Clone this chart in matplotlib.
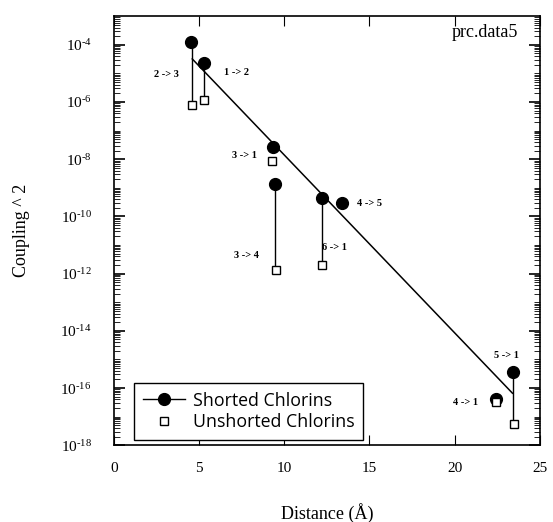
import numpy as np
import matplotlib
matplotlib.use("Agg")
import matplotlib.pyplot as plt
from matplotlib.ticker import FixedLocator, NullFormatter

plt.rcParams['font.family'] = ['Liberation Serif', 'DejaVu Serif']
plt.rcParams['mathtext.fontset'] = 'custom'
plt.rcParams['mathtext.rm'] = 'Liberation Serif'
plt.rcParams['mathtext.it'] = 'Liberation Serif:italic'

# data
pairs = ["2 -> 3", "1 -> 2", "3 -> 1", "3 -> 4", "6 -> 1", "4 -> 5", "4 -> 1", "5 -> 1"]
dist_short = [4.55, 5.3, 9.35, 9.45, 12.2, 13.4, 22.45, 23.45]
coup_short = [1.3e-4, 2.4e-5, 2.7e-8, 1.4e-9, 4.3e-10, 3.0e-10, 4.2e-17, 3.6e-16]
dist_unshort = [4.6, 5.3, 9.3, 9.5, 12.2, 22.45, 23.5]
coup_unshort = [8e-7, 1.2e-6, 9e-9, 1.3e-12, 2.0e-12, 3.2e-17, 5.5e-18]
# stems joining shorted / unshorted values of the same pair
stem_x = [4.6, 5.3, 9.45, 12.2, 23.45]
stem_top = [1.3e-4, 2.4e-5, 1.4e-9, 4.3e-10, 3.6e-16]
stem_bot = [8e-7, 1.2e-6, 1.3e-12, 2.0e-12, 5.5e-18]
# fitted line end points
fit_x = [4.6, 23.4]
fit_y = [3.2e-5, 6.6e-17]

# label positions (distance, coupling) for each pair
lab_x = [3.1, 7.2, 7.65, 7.8, 12.95, 15.0, 20.65, 23.05]
lab_y = [9.5e-6, 1.1e-5, 1.4e-8, 4.3e-12, 8e-12, 2.9e-10, 3.2e-17, 1.4e-15]

fig = plt.figure(figsize=(5.53, 5.22), dpi=100)
ax = fig.add_axes([0.206, 0.147, 0.770, 0.822])

for x, a, b in zip(stem_x, stem_top, stem_bot):
    ax.plot([x, x], [a, b], color='black', lw=1.0)
ax.plot(fit_x, fit_y, color='black', lw=1.1)
ax.plot(dist_short, coup_short, 'o', color='black', ms=8.5)
ax.plot(dist_unshort, coup_unshort, 's', mfc='white', mec='black', mew=1.0, ms=5.8)

for t, x, y in zip(pairs, lab_x, lab_y):
    ax.text(x, y, t, fontsize=7.5, ha='center', va='center', fontweight='bold')

ax.text(0.948, 0.962, "prc.data5", transform=ax.transAxes, ha='right', va='center', fontsize=13)

ax.set_yscale('log')
ax.set_xlim(0, 25)
ax.set_ylim(1e-18, 1e-3)

ax.set_xticks([0, 5, 10, 15, 20, 25])
ax.set_xticklabels(['0', '5', '10', '15', '20', '25'])
even = [10.0**e for e in range(-18, -3, 2)]
ax.yaxis.set_major_locator(FixedLocator(even))
ax.set_yticklabels([r'$10^{\text{-}%d}$' % -e for e in range(-18, -3, 2)])
minor = []
for e in range(-18, -3):
    for s in range(1, 10):
        v = s * 10.0**e
        if s == 1 and e % 2 == 0:
            continue
        minor.append(v)
ax.yaxis.set_minor_locator(FixedLocator(minor))
ax.yaxis.set_minor_formatter(NullFormatter())
ax.tick_params(axis='both', which='both', direction='in', top=True, right=True, labelsize=11)
ax.tick_params(axis='y', which='major', length=8, width=1.2, pad=16)
ax.tick_params(axis='y', which='minor', length=4)
ax.tick_params(axis='x', which='major', length=7, pad=12)
for s in ax.spines.values():
    s.set_linewidth(1.2)

ax.set_xlabel("Distance (Å)", fontsize=13, labelpad=20)
ax.set_ylabel("Coupling ^ 2", fontsize=13, labelpad=22)

handles = [plt.Line2D([], [], color='black', marker='o', ms=8.5, lw=1),
           plt.Line2D([], [], color='black', marker='s', mfc='white', ms=5.8, lw=0)]
ax.legend(handles, ["Shorted Chlorins", "Unshorted Chlorins"],
          loc='lower left', bbox_to_anchor=(0.047, 0.012), borderaxespad=0,
          prop={'family': 'Open Sans', 'size': 12.8}, frameon=True,
          fancybox=False, edgecolor='black', framealpha=1, handlelength=2.4,
          borderpad=0.5, labelspacing=0.2, handletextpad=0.4)

fig.savefig("out.png", dpi=100)
